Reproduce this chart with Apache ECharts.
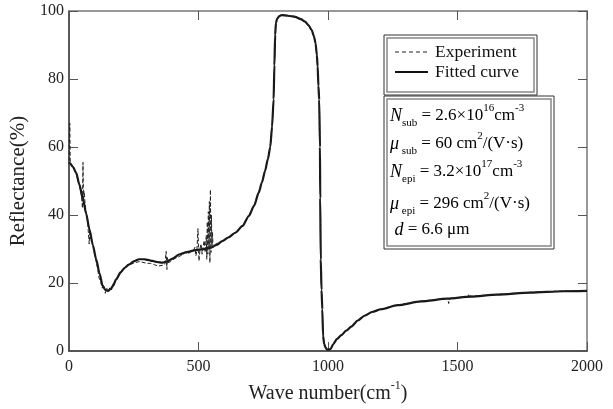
<!DOCTYPE html>
<html>
<head>
<meta charset="utf-8">
<script src="https://cdn.jsdelivr.net/npm/echarts@6/dist/echarts.min.js"></script>
<style>html,body{margin:0;padding:0;background:#fff}#c{width:613px;height:409px}</style>
</head>
<body>
<div id="c"></div>
<script>
var fitWave = [0,3,15,28,40,54,66,79,92,105,118,130,140,150,160,170,182,200,215,233,250,271,290,305,322,340,361,380,400,425,455,489,520,546,570,591,615,642,670,694,715,732,745,757,768,777,784,790,793,796,799,804,812,821,845,873,895,911,925,937,946,952,957,960,963,966,969,970,972,975,978,981,985,990,996,1001,1010,1020,1035,1052,1070,1090,1115,1141,1170,1205,1269,1359,1461,1551,1653,1781,1909,2000];
var fitRefl = [55.5,55.3,54.2,52.4,49,44.6,40.5,35.8,31.2,27,22.8,19.2,18,17.7,18.2,19.2,21.1,23.2,24.5,25.5,26.4,27,27,26.8,26.5,26.2,26,26.4,27.2,28.4,29.1,29.7,30,30.4,31.2,32.3,33.4,34.8,36.8,39.7,42.8,46.5,49.6,53,56.5,60,66,74,84,93,96.5,97.8,98.5,98.8,98.6,98.3,97.6,96.9,95.8,94.4,92.5,90.5,87,83.7,78,73.9,60,45,27,18,12.3,4.5,2.2,1.1,0.5,0.4,0.6,2,3.6,4.7,6,7.2,9,10.4,11.5,12.3,13.5,14.6,15.4,16,16.6,17.2,17.6,17.7];

var expWave = [0,3,5,10,20,30,40,48,52,54,56,58,62,66,72,76,78,80,84,90,96,100,104,110,116,122,128,134,140,146,152,158,164,170,178,186,195,205,215,225,240,255,270,285,300,315,330,345,360,370,375,378,380,382,385,392,400,410,420,430,440,450,460,470,480,486,490,494,498,500,502,506,510,514,518,522,526,530,532,534,536,538,540,542,544,546,548,550,552,554,556,560,566,575,590,610,630,650,670,694,715,732,745,757,768,777,784,790,793,796,799,804,812,821,845,873,895,911,925,937,946,952,957,960,963,966,969,970,972,975,978,981,985,990,996,1001,1010,1020,1035,1052,1070,1090,1115,1141,1170,1205,1269,1359,1440,1462,1466,1470,1500,1540,1544,1551,1653,1781,1909,2000];
var expRefl = [56,67,55,54.6,53.5,51.5,48.5,46,42,55.5,44,47,43.5,41,38,33.5,31.5,35,33,32,29.5,28,26.5,24.5,21.5,20.5,18.5,19.5,17,18.5,17.2,18.8,18,19.8,20.2,22,22.6,24,24.2,25.4,25.6,26,26.3,26.1,25.8,25.8,25.4,25,25.2,25.5,29.3,24,27.5,26,25.6,26.3,26.8,27.3,27.6,28,28.4,29,28.6,29.2,29.5,30.5,28,29.8,36,30,26.5,30.2,31.5,28.5,30.8,32.5,29,34,27,38,28.5,41,30,44,26,47.5,29,40,31,35,30.5,31.2,31.5,31.8,32.4,33.2,34.3,35.3,36.9,39.9,42.9,46.6,49.7,53.1,56.6,60.1,66,74,84,93,96.5,97.9,98.6,98.9,98.7,98.4,97.7,97,95.9,94.5,92.5,90.5,87,83.7,78,73.9,60,45,27,18,12.3,4.5,2.2,1.1,0.5,0.4,0.6,2,3.6,4.7,6,7.2,9,10.4,11.6,12.4,13.6,14.7,15.3,15.5,14,15.5,15.7,16,16.8,16.1,16.7,17.3,17.7,17.8];

var xMin = 0, xMax = 2000, xStep = 500;
var yMin = 0, yMax = 100, yStep = 20;
var legendNames = ['Experiment', 'Fitted curve'];

function pairs(xs, ys) { return xs.map(function (x, i) { return [x, ys[i]]; }); }

var serif = '"Liberation Serif", "DejaVu Serif", serif';
var chart = echarts.init(document.getElementById('c'), null, { renderer: 'canvas' });

function mkX(pos, show) {
  return {
    type: 'value', position: pos, min: xMin, max: xMax, interval: xStep,
    axisLine: { show: true, onZero: false, lineStyle: { color: show ? '#222' : '#777', width: 1.5 } },
    axisTick: { show: true, inside: true, length: 9, lineStyle: { color: '#555', width: 1 } },
    axisLabel: { show: show, fontFamily: serif, fontSize: 16, color: '#222', margin: 8, formatter: function (v) { return String(v); } },
    splitLine: { show: false }
  };
}
function mkY(pos, show) {
  return {
    type: 'value', position: pos, min: yMin, max: yMax, interval: yStep,
    axisLine: { show: true, onZero: false, lineStyle: { color: show ? '#222' : '#777', width: 1.5 } },
    axisTick: { show: true, inside: true, length: 9, lineStyle: { color: '#555', width: 1 } },
    axisLabel: { show: show, fontFamily: serif, fontSize: 16, color: '#222', margin: 5, formatter: function (v) { return String(v); } },
    splitLine: { show: false }
  };
}

var xb = mkX('bottom', true);
xb.name = '{m|Wave number(cm}{s|-1}{m|)}';
xb.nameLocation = 'middle';
xb.nameGap = 27;
xb.nameTextStyle = { fontFamily: serif, color: '#222', rich: {
  m: { fontFamily: serif, fontSize: 20, color: '#222', lineHeight: 24, verticalAlign: 'bottom' },
  s: { fontFamily: serif, fontSize: 12, color: '#222', lineHeight: 12, verticalAlign: 'top' }
} };
var yl = mkY('left', true);
yl.name = 'Reflectance(%)';
yl.nameLocation = 'middle';
yl.nameGap = 40;
yl.nameTextStyle = { fontFamily: serif, fontSize: 21, color: '#222' };

var rich = {
  i: { fontFamily: serif, fontStyle: 'italic', fontSize: 18, color: '#111', lineHeight: 26, verticalAlign: 'middle' },
  n: { fontFamily: serif, fontSize: 17, color: '#111', lineHeight: 26, verticalAlign: 'middle' },
  b: { fontFamily: serif, fontSize: 11, color: '#111', lineHeight: 11, verticalAlign: 'bottom' },
  p: { fontFamily: serif, fontSize: 11, color: '#111', lineHeight: 11, verticalAlign: 'top' }
};
var annLines = [
  ['{i|N}{b|sub}{n| = 2.6×10}{p|16}{n|cm}{p|-3}', 116],
  ['{i|μ}{b| sub}{n| = 60 cm}{p|2}{n|/(V·s)}', 144],
  ['{i|N}{b|epi}{n| = 3.2×10}{p|17}{n|cm}{p|-3}', 172],
  ['{i|μ}{b| epi}{n| = 296 cm}{p|2}{n|/(V·s)}', 204],
  ['{i| d}{n| = 6.6 μm}', 230]
];

var graphics = [
  { type: 'rect', shape: { x: 384, y: 35, width: 153, height: 60 }, style: { fill: '#fff', stroke: '#333', lineWidth: 1 }, z: 10 },
  { type: 'rect', shape: { x: 387, y: 38, width: 147, height: 54 }, style: { fill: 'none', stroke: '#888', lineWidth: 1.5 }, z: 10 },
  { type: 'line', shape: { x1: 395, y1: 52, x2: 428, y2: 52 }, style: { stroke: '#222', lineWidth: 1, lineDash: [4, 3] }, z: 11 },
  { type: 'line', shape: { x1: 395, y1: 72, x2: 428, y2: 72 }, style: { stroke: '#111', lineWidth: 2.2 }, z: 11 },
  { type: 'text', x: 435, y: 52, style: { text: legendNames[0], font: '17.5px ' + serif, fill: '#111', verticalAlign: 'middle' }, z: 11 },
  { type: 'text', x: 435, y: 72, style: { text: legendNames[1], font: '17.5px ' + serif, fill: '#111', verticalAlign: 'middle' }, z: 11 },
  { type: 'rect', shape: { x: 384, y: 96, width: 170, height: 153 }, style: { fill: '#fff', stroke: '#333', lineWidth: 1 }, z: 10 },
  { type: 'rect', shape: { x: 387, y: 99, width: 164, height: 147 }, style: { fill: 'none', stroke: '#888', lineWidth: 1.5 }, z: 10 }
];
annLines.forEach(function (l) {
  graphics.push({ type: 'text', x: 390, y: l[1], style: { text: l[0], rich: rich, verticalAlign: 'middle', align: 'left' }, z: 11 });
});

chart.setOption({
  animation: false,
  backgroundColor: '#fff',
  grid: { left: 66, right: 26, top: 11, bottom: 57, containLabel: false },
  xAxis: [xb, mkX('top', false)],
  yAxis: [yl, mkY('right', false)],
  series: [
    { name: legendNames[1], type: 'line', xAxisIndex: 0, yAxisIndex: 0, data: pairs(fitWave, fitRefl), symbol: 'none', smooth: 0.25, smoothMonotone: 'x', lineStyle: { color: '#161616', width: 2.2 }, z: 3 },
    { name: legendNames[0], type: 'line', xAxisIndex: 0, yAxisIndex: 0, data: pairs(expWave, expRefl), symbol: 'none', lineStyle: { color: '#222', width: 1, type: [4, 2] }, z: 4 }
  ],
  graphic: graphics
});
</script>
</body>
</html>
